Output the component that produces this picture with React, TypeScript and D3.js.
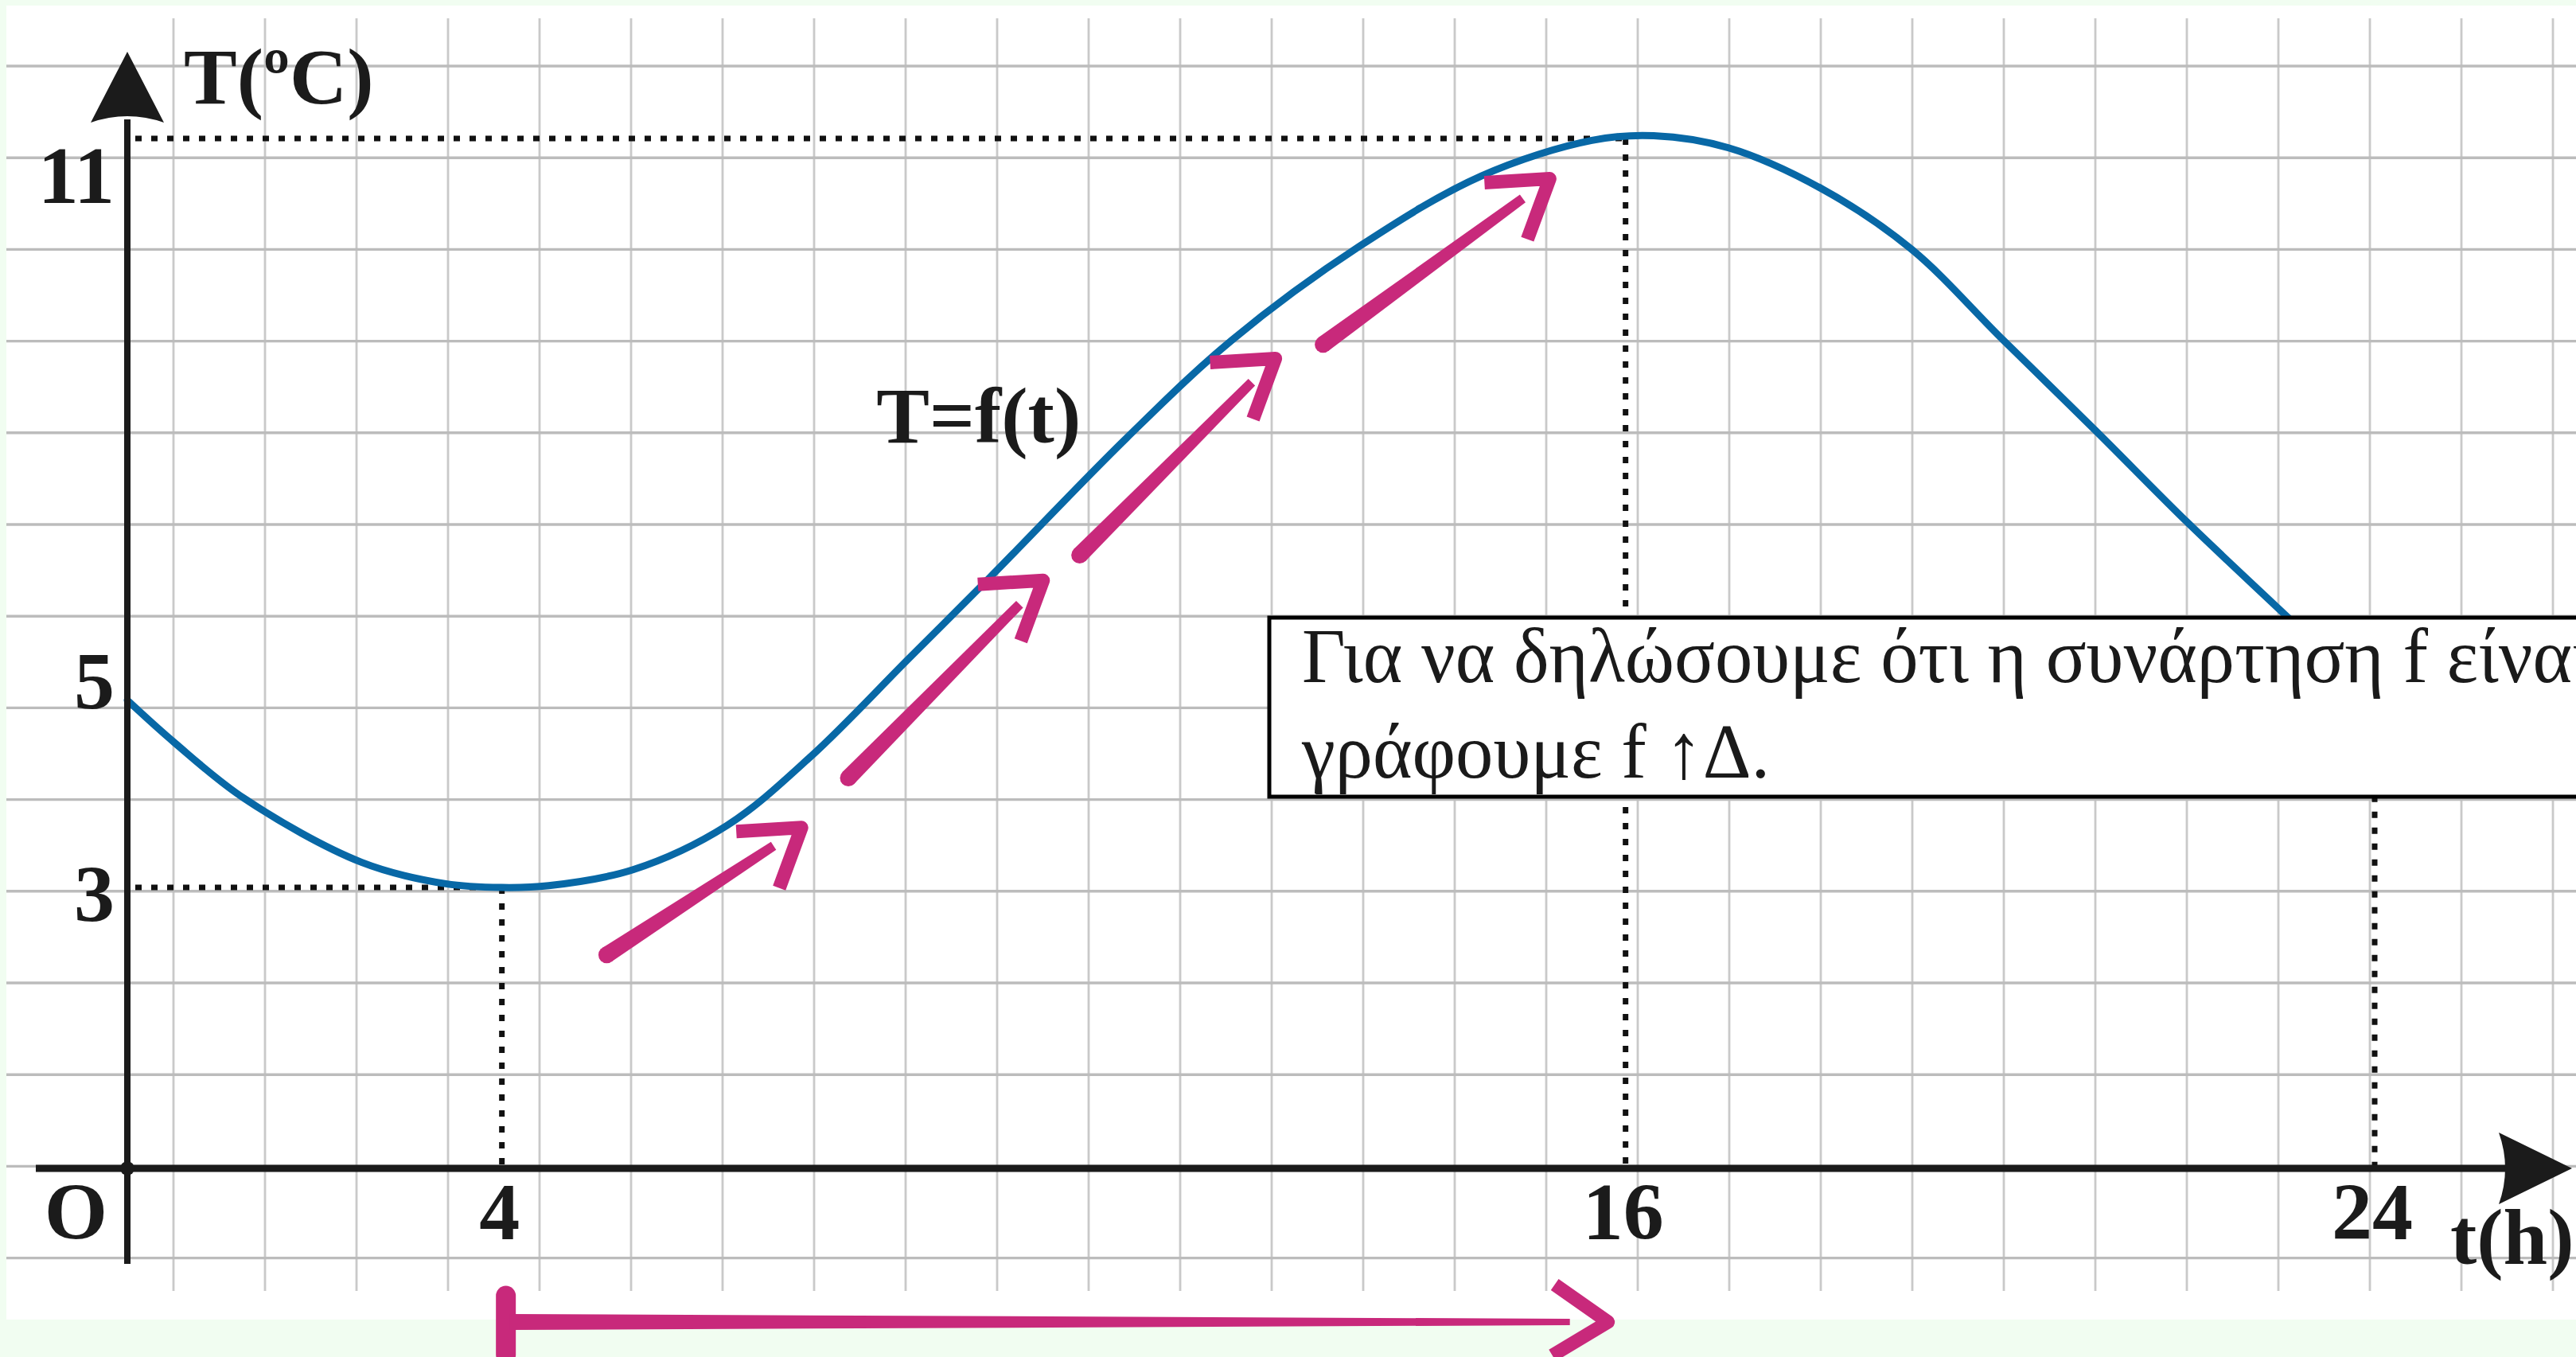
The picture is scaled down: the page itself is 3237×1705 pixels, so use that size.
import React from "react";
import * as d3 from "d3";

const W = 3237;
const H = 1705;

// Temperature curve T = f(t): hours and degrees Celsius
const hours = [0, 0.5, 1.25, 2.5, 3.4, 4, 4.5, 5.4, 6.4, 7.3, 8.35, 9.2, 10.67, 11.8, 13.16, 14.46, 15.64, 16.3, 17.1, 18.1, 19.05, 20.03, 21.03, 22, 23.12, 24];
const temps = [5, 4.55, 3.95, 3.27, 3.04, 3, 3.02, 3.19, 3.66, 4.4, 5.45, 6.3, 7.8, 8.85, 9.85, 10.6, 10.98, 11.03, 10.9, 10.46, 9.82, 8.85, 7.87, 6.9, 5.84, 5.0];

// Marked values on the axes
const xTickValues = [4, 16, 24];
const yTickValues = [3, 5, 11];

// Reference points joined to both axes by dotted lines
const guideTimes = [4, 16];
const guideTemps = [3, 11];
// t = 24 is only joined down to the time axis
const dropTimes = [24];
const dropTemps = [5];

// Hand-drawn "increasing" arrows along the rising part (start -> tip, in t / T units)
const arrowStartT = [5.12, 7.7, 10.17, 12.77];
const arrowStartV = [2.28, 4.17, 6.55, 8.8];
const arrowTipT = [7.2, 9.78, 12.26, 15.19];
const arrowTipV = [3.64, 6.28, 8.65, 10.57];

// Interval on which f is increasing, underlined below the time axis
const increasingFrom = 4;
const increasingTo = 16;

const boxLines = [
  "Για να δηλώσουμε ότι η συνάρτηση f είναι γνησίως αύξουσα στο Δ,",
  "γράφουμε f ↑Δ.",
];

const SERIF = "'Liberation Serif', 'Times New Roman', serif";
const PINK = "#c8297b";
const INK = "#1b1b1b";
const BLUE = "#0868a6";

function taperedStroke(x0: number, y0: number, x1: number, y1: number, w0: number, w1: number) {
  const L = Math.hypot(x1 - x0, y1 - y0);
  const ux = (x1 - x0) / L;
  const uy = (y1 - y0) / L;
  const nx = -uy;
  const ny = ux;
  const p = (px: number, py: number) => `${px.toFixed(1)},${py.toFixed(1)}`;
  return (
    `M${p(x0 + (nx * w0) / 2, y0 + (ny * w0) / 2)}` +
    `L${p(x1 + (nx * w1) / 2, y1 + (ny * w1) / 2)}` +
    `L${p(x1 - (nx * w1) / 2, y1 - (ny * w1) / 2)}` +
    `L${p(x0 - (nx * w0) / 2, y0 - (ny * w0) / 2)}Z`
  );
}

export default function App() {
  const x = d3.scaleLinear().domain([0, 24]).range([160, 2984]);
  const y = d3.scaleLinear().domain([0, 11]).range([1468, 174]);

  const curve = d3
    .line<number>()
    .x((_, i) => x(hours[i]))
    .y((_, i) => y(temps[i]))
    .curve(d3.curveCatmullRom.alpha(0.5))(hours) as string;

  // graph-paper grid
  const paperTop = 7;
  const paperBottom = 1658;
  const hGrid = d3.range(0, 14).map((k) => 83 + 115.2 * k);
  const vGrid = d3.range(0, 27).map((k) => 218 + 115 * k);

  const x0 = x(0);
  const y0 = y(0);

  const yLabelNudge: Record<number, number> = { 11: 81, 5: 10, 3: 43 };

  const dotStyle = { stroke: "#111", strokeWidth: 7, strokeDasharray: "8 12", fill: "none" };

  const underY = y0 + 193;

  return (
    <div style={{ position: "fixed", left: 0, top: 0, width: W, height: H, overflow: "hidden" }}>
      <svg width={W} height={H} viewBox={`0 0 ${W} ${H}`} style={{ display: "block" }}>
        <rect x={0} y={0} width={W} height={H} fill="#f1fdf1" />
        <rect x={8} y={paperTop} width={W - 8} height={paperBottom - paperTop} fill="#ffffff" />

        {/* grid */}
        <g>
          {vGrid.map((gx) => (
            <line key={"v" + gx} x1={gx} x2={gx} y1={23} y2={1622} stroke="#c9c9c9" strokeWidth={2.8} />
          ))}
          {hGrid.map((gy) => (
            <line key={"h" + gy} x1={8} x2={W} y1={gy} y2={gy} stroke="#bcbcbc" strokeWidth={3.4} />
          ))}
        </g>

        {/* dotted guides */}
        {guideTimes.map((t, i) => (
          <g key={"g" + t}>
            <line x1={x0 + 10} x2={x(t)} y1={y(guideTemps[i])} y2={y(guideTemps[i])} style={dotStyle} />
            <line x1={x(t)} x2={x(t)} y1={y(guideTemps[i])} y2={y0} style={dotStyle} />
          </g>
        ))}
        {dropTimes.map((t, i) => (
          <line key={"d" + t} x1={x(t)} x2={x(t)} y1={y(dropTemps[i])} y2={y0} style={dotStyle} />
        ))}

        {/* function graph */}
        <path d={curve} fill="none" stroke={BLUE} strokeWidth={9} strokeLinecap="round" />

        {/* axes */}
        <line x1={x0} x2={x0} y1={1588} y2={150} stroke={INK} strokeWidth={8} />
        <line x1={45} x2={3150} y1={y0} y2={y0} stroke={INK} strokeWidth={9} />
        <path d={`M${x0},65 L${x0 + 46},154 Q${x0},138 ${x0 - 46},154 Z`} fill={INK} />
        <path d={`M3232,${y0} L3140,${y0 - 45} Q3156,${y0} 3140,${y0 + 45} Z`} fill={INK} />
        <circle cx={x0} cy={y0} r={9} fill={INK} />

        {/* axis titles */}
        <text x={231} y={130} fontFamily={SERIF} fontWeight="bold" fontSize={100} fill={INK}>
          T(ºC)
        </text>
        <text x={3079} y={1588} fontFamily={SERIF} fontWeight="bold" fontSize={100} fill={INK}>
          t(h)
        </text>

        {/* tick labels */}
        <text x={x0 - 25} y={1557} textAnchor="end" fontFamily={SERIF} fontWeight="bold" fontSize={102} fill={INK}>
          O
        </text>
        {xTickValues.map((t) => (
          <text key={"xt" + t} x={x(t) - 3} y={1557} textAnchor="middle" fontFamily={SERIF} fontWeight="bold" fontSize={102} fill={INK}>
            {t}
          </text>
        ))}
        {yTickValues.map((v) => (
          <text key={"yt" + v} x={x0 - 16} y={y(v) + yLabelNudge[v]} textAnchor="end" fontFamily={SERIF} fontWeight="bold" fontSize={102} fill={INK}>
            {v}
          </text>
        ))}

        <text x={x(8)} y={y(7.75)} fontFamily={SERIF} fontWeight="bold" fontSize={100} fill={INK}>
          T=f(t)
        </text>

        {/* increasing arrows */}
        {arrowStartT.map((t, i) => {
          const sx = x(t);
          const sy = y(arrowStartV[i]);
          const tx = x(arrowTipT[i]);
          const ty = y(arrowTipV[i]);
          const L = Math.hypot(tx - sx, ty - sy);
          const ex = tx - ((tx - sx) / L) * 42;
          const ey = ty - ((ty - sy) / L) * 42;
          return (
            <g key={"a" + i} fill={PINK}>
              <path d={taperedStroke(sx, sy, ex, ey, 21, 12)} />
              <circle cx={sx} cy={sy} r={10.5} />
              <polyline
                points={`${tx - 82},${ty + 5} ${tx},${ty} ${tx - 28},${ty + 76}`}
                fill="none"
                stroke={PINK}
                strokeWidth={17}
                strokeLinejoin="round"
              />
            </g>
          );
        })}

        {/* interval underline */}
        <g fill={PINK}>
          <line x1={x(increasingFrom) + 5} x2={x(increasingFrom) + 5} y1={1628} y2={1702} stroke={PINK} strokeWidth={25} strokeLinecap="round" />
          <path d={taperedStroke(x(increasingFrom) + 10, underY, x(increasingTo) - 70, underY, 20, 8)} />
          <polyline
            points={`${x(increasingTo) - 89},${underY - 47} ${x(increasingTo) - 22},${underY} ${x(increasingTo) - 92},${underY + 42}`}
            fill="none"
            stroke={PINK}
            strokeWidth={17}
            strokeLinejoin="round"
          />
        </g>

        {/* note box */}
        <rect x={1595} y={776} width={1800} height={225} fill="#ffffff" stroke="#000" strokeWidth={5} />
        <g transform="translate(1636,0) scale(0.965,1)">
          <text x={0} y={857} fontFamily={SERIF} fontSize={98} fill="#1a1a1a">
            {boxLines[0]}
          </text>
          <text x={0} y={977} fontFamily={SERIF} fontSize={98} fill="#1a1a1a">
            {boxLines[1]}
          </text>
        </g>
      </svg>
    </div>
  );
}
